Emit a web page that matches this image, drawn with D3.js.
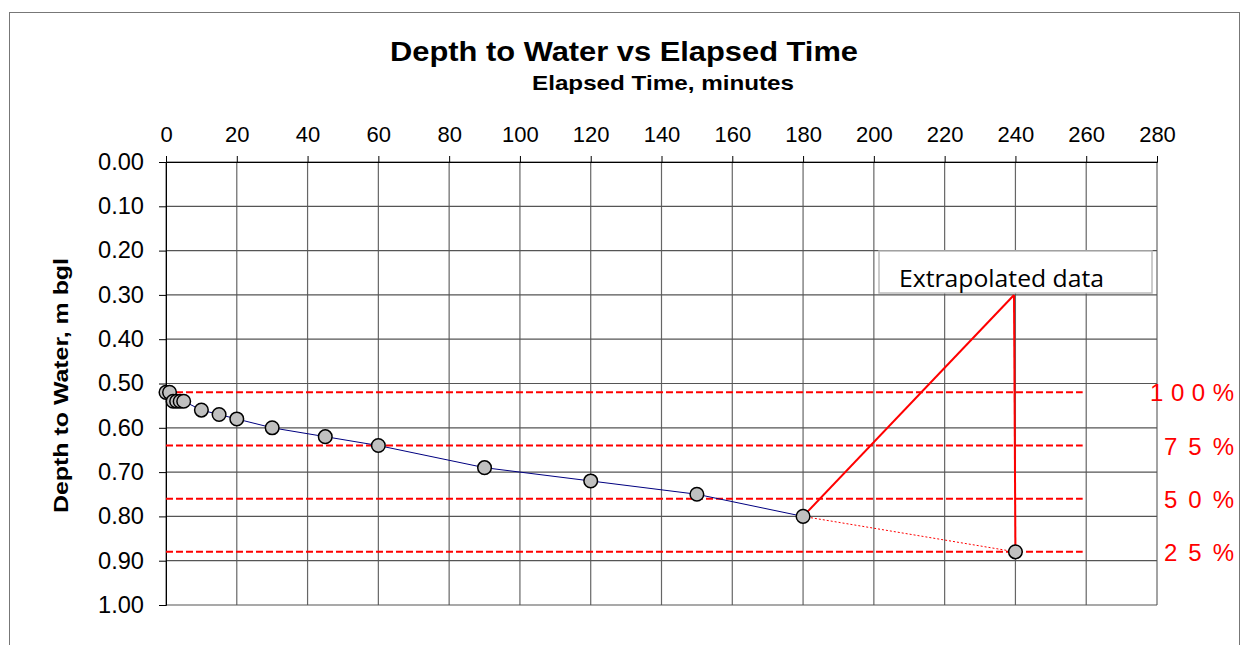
<!DOCTYPE html>
<html><head><meta charset="utf-8">
<script src="https://cdn.jsdelivr.net/npm/d3@7"></script>
<style>body{margin:0;background:#fff}svg{display:block}</style>
</head><body>
<svg id="c" width="1248" height="645"></svg>
<script>
const elapsedTime = [0, 1, 2, 3, 4, 5, 10, 15, 20, 30, 45, 60, 90, 120, 150, 180];
const depthToWater = [0.52, 0.52, 0.54, 0.54, 0.54, 0.54, 0.56, 0.57, 0.58, 0.60, 0.62, 0.64, 0.69, 0.72, 0.75, 0.80];
const extrapTime = [180, 240];
const extrapDepth = [0.80, 0.88];
const recoveryLevels = [0.52, 0.64, 0.76, 0.88];
const recoveryLabels = ["1 0 0 %", "7 5 %", "5 0 %", "2 5 %"];
const xTicks = d3.range(0, 281, 20);
const yTicks = d3.range(0, 1.001, 0.1);
const recoveryLineEnd = 259;

const svg = d3.select("#c");
const font = "'Liberation Sans', Arial, sans-serif";
const x = d3.scaleLinear().domain([0, 280]).range([166, 1157]);
const y = d3.scaleLinear().domain([0, 1]).range([162, 605]);

// outer frame
svg.append("rect").attr("x", 9.5).attr("y", 12.5).attr("width", 1230).attr("height", 660)
  .attr("fill", "none").attr("stroke", "#777").attr("stroke-width", 1);

// grid
const g = svg.append("g");
g.selectAll(".vg").data(xTicks).join("line")
  .attr("x1", d => x(d)).attr("x2", d => x(d)).attr("y1", y(0)).attr("y2", y(1))
  .attr("stroke", "#666").attr("stroke-width", 1.2);
g.selectAll(".hg").data(yTicks).join("line")
  .attr("x1", x(0)).attr("x2", x(280)).attr("y1", d => y(d)).attr("y2", d => y(d))
  .attr("stroke", "#555").attr("stroke-width", 1.2);

// axes
const xAxis = d3.axisTop(x).tickValues(xTicks).tickSize(6).tickPadding(14).tickFormat(d3.format("d"));
const xa = svg.append("g").attr("transform", `translate(0,${y(0)})`).call(xAxis);
xa.select(".domain").attr("stroke", "#000");
xa.selectAll(".tick line").attr("stroke", "#000");
xa.selectAll("text").attr("font-family", font).attr("font-size", 22).attr("fill", "#000");

const yAxis = d3.axisLeft(y).tickValues(yTicks).tickSize(7).tickPadding(15).tickFormat(d3.format(".2f"));
const ya = svg.append("g").attr("transform", `translate(${x(0)},0)`).call(yAxis);
ya.select(".domain").attr("stroke", "#000");
ya.selectAll(".tick line").attr("stroke", "#000");
ya.selectAll("text").attr("font-family", font).attr("font-size", 23).attr("fill", "#000")
  .attr("textLength", 46).attr("lengthAdjust", "spacingAndGlyphs");

// recovery lines
svg.selectAll(".rl").data(recoveryLevels).join("line")
  .attr("x1", x(0)).attr("x2", x(recoveryLineEnd)).attr("y1", d => y(d)).attr("y2", d => y(d))
  .attr("stroke", "#ff0000").attr("stroke-width", 2).attr("stroke-dasharray", "7,3");
svg.selectAll(".rlab").data(recoveryLevels).join("text")
  .attr("x", 1234).attr("y", d => y(d) + 9).attr("text-anchor", "end")
  .attr("font-family", font).attr("font-size", 24).attr("fill", "#ff0000")
  .attr("textLength", (d, i) => i === 0 ? 84 : 70).attr("lengthAdjust", "spacing")
  .text((d, i) => recoveryLabels[i]);

// data line
const pts = elapsedTime.map((t, i) => [t, depthToWater[i]]);
const line = d3.line().x(d => x(d[0])).y(d => y(d[1]));
svg.append("path").datum(pts).attr("d", line).attr("fill", "none")
  .attr("stroke", "#000080").attr("stroke-width", 1);
const ext = extrapTime.map((t, i) => [t, extrapDepth[i]]);
svg.append("path").datum(ext).attr("d", line).attr("fill", "none")
  .attr("stroke", "#ff0000").attr("stroke-width", 1).attr("stroke-dasharray", "2,2");

// callout
const boxX = 879, boxY = 251, boxW = 273, boxH = 42;
const tip = [1014, 295];
svg.selectAll(".cl").data(ext).join("line")
  .attr("x1", tip[0]).attr("y1", tip[1]).attr("x2", d => x(d[0])).attr("y2", d => y(d[1]))
  .attr("stroke", "#ff0000").attr("stroke-width", 2);
svg.append("rect").attr("x", boxX).attr("y", boxY).attr("width", boxW).attr("height", boxH)
  .attr("fill", "#fff").attr("stroke", "#bbb").attr("stroke-width", 1.5);
svg.append("text").attr("x", 899).attr("y", 287).attr("font-family", "'Open Sans', 'Noto Sans', sans-serif")
  .attr("font-size", 23).attr("fill", "#000")
  .attr("textLength", 205).attr("lengthAdjust", "spacingAndGlyphs").text("Extrapolated data");

// markers
svg.selectAll(".pt").data(pts.concat([ext[1]])).join("circle")
  .attr("cx", d => x(d[0])).attr("cy", d => y(d[1])).attr("r", 6.8)
  .attr("fill", "#c0c0c0").attr("stroke", "#000").attr("stroke-width", 1.5);

// titles
svg.append("text").attr("x", 390).attr("y", 61)
  .attr("font-family", font).attr("font-weight", "bold").attr("font-size", 27)
  .attr("textLength", 468).attr("lengthAdjust", "spacingAndGlyphs").text("Depth to Water vs Elapsed Time");
svg.append("text").attr("x", 532).attr("y", 90)
  .attr("font-family", font).attr("font-weight", "bold").attr("font-size", 21)
  .attr("textLength", 262).attr("lengthAdjust", "spacingAndGlyphs").text("Elapsed Time, minutes");
svg.append("text").attr("transform", "translate(68,513) rotate(-90)")
  .attr("font-family", font).attr("font-weight", "bold").attr("font-size", 21)
  .attr("textLength", 255).attr("lengthAdjust", "spacingAndGlyphs").text("Depth to Water, m bgl");
</script>
</body></html>
